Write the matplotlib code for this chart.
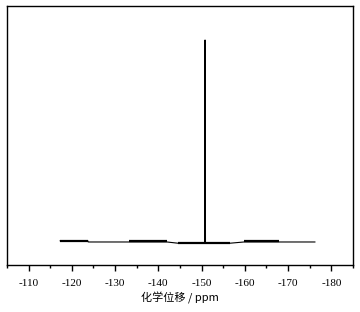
import matplotlib
matplotlib.use('Agg')
import matplotlib.pyplot as plt
from matplotlib.ticker import MultipleLocator

plt.rcParams['axes.unicode_minus'] = False

# spectrum trace, chemical shift (ppm) and relative intensity
shift = [-117.3, -123.7, -123.8, -133.2, -142.0, -144.5, -150.7, -150.8,
         -150.9, -156.6, -159.8, -167.9, -176.2]
intensity = [0.006, 0.006, 0.0, 0.0, 0.0, -0.006, -0.006, 1.0,
             -0.006, -0.006, 0.0, 0.0, 0.0]

# noisy baseline regions drawn thicker
noise_start = [-117.3, -133.2, -144.5, -159.8]
noise_end = [-123.7, -142.0, -156.6, -167.9]
noise_level = [0.006, 0.003, -0.006, 0.003]

fig = plt.figure(figsize=(3.6, 3.12), dpi=100)
ax = fig.add_axes([0.0194, 0.1506, 0.961, 0.830])

ax.plot(shift, intensity, color='black', lw=0.8)
for a, b, lvl in zip(noise_start, noise_end, noise_level):
    ax.plot([a, b], [lvl, lvl], color='black', lw=1.6, solid_capstyle='butt')

ax.set_xlim(-105, -185)
ax.set_ylim(-0.114, 1.168)
ax.xaxis.set_major_locator(MultipleLocator(10))
ax.xaxis.set_minor_locator(MultipleLocator(5))
ax.tick_params(axis='x', which='major', direction='out', length=4, width=1,
               labelsize=8, pad=6)
ax.tick_params(axis='x', which='minor', direction='out', length=2.5, width=1)
ax.set_yticks([])
for lab in ax.get_xticklabels():
    lab.set_family('Liberation Serif')
for s in ax.spines.values():
    s.set_linewidth(1.0)

ax.set_xlabel('化学位移 / ppm', family=['Noto Sans CJK SC', 'DejaVu Sans'],
              fontsize=8, labelpad=3)

fig.savefig('out.png', dpi=100)
